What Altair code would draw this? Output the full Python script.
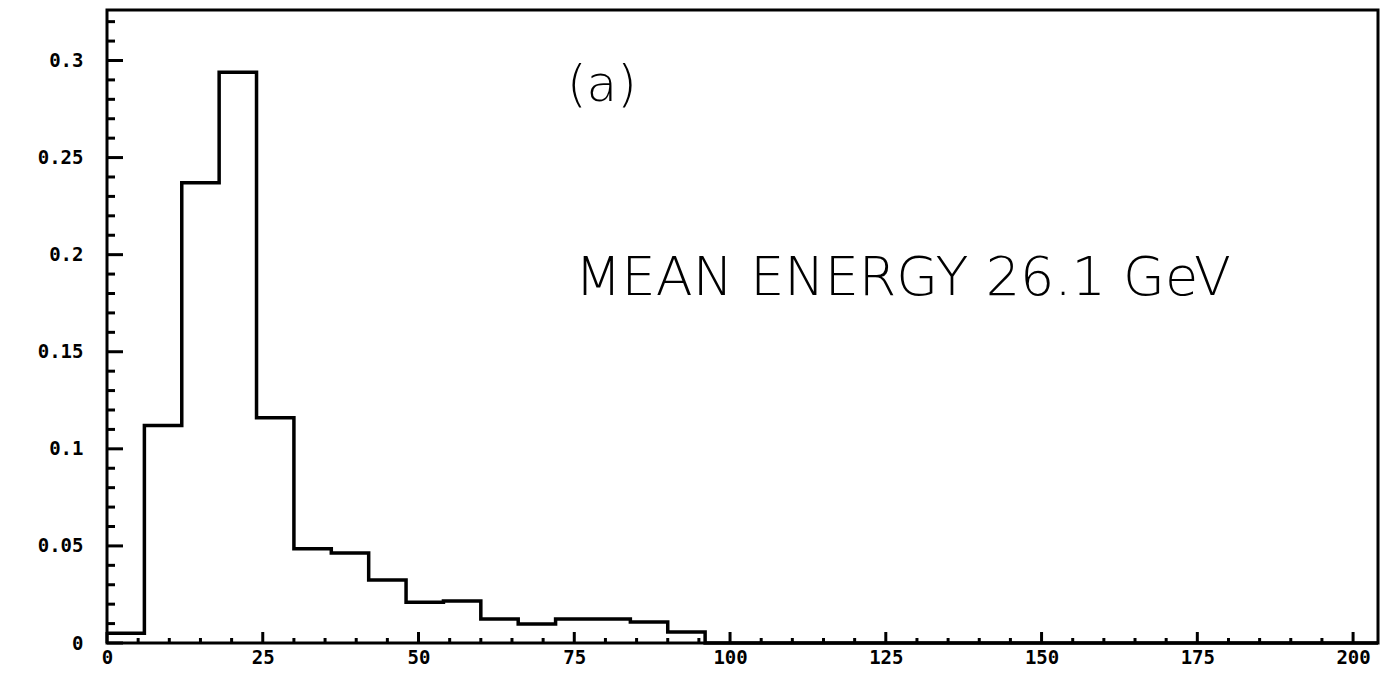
import altair as alt
import pandas as pd

# Histogram (bin lower edges in GeV, fraction of events per 6 GeV bin)
bin_low = [0, 6, 12, 18, 24, 30, 36, 42, 48, 54, 60, 66, 72, 78, 84, 90]
bin_frac = [0.005, 0.112, 0.237, 0.294, 0.116, 0.0485, 0.0464, 0.0325,
            0.021, 0.0216, 0.0124, 0.0098, 0.0124, 0.0124, 0.0108, 0.0057]
hist_end = 96
x_max = 204
y_max = 0.326

x_major = [0, 25, 50, 75, 100, 125, 150, 175, 200]
x_minor = [5, 10, 15, 20, 30, 35, 40, 45, 55, 60, 65, 70, 80, 85, 90, 95,
           105, 110, 115, 120, 130, 135, 140, 145, 155, 160, 165, 170,
           180, 185, 190, 195]
y_major = [0, 0.05, 0.1, 0.15, 0.2, 0.25, 0.3]
y_minor = [0.01, 0.02, 0.03, 0.04, 0.06, 0.07, 0.08, 0.09, 0.11, 0.12, 0.13,
           0.14, 0.16, 0.17, 0.18, 0.19, 0.21, 0.22, 0.23, 0.24, 0.26, 0.27,
           0.28, 0.29, 0.31, 0.32]

label_a = "(a)"
label_mean = "MEAN ENERGY 26.1 GeV"

W, H = 1271, 633
LABEL_FONT = "DejaVu Sans Mono"
LABEL_SIZE = 19

xscale = alt.Scale(domain=[0, x_max], nice=False, zero=False)
yscale = alt.Scale(domain=[0, y_max], nice=False, zero=False)

step_df = pd.DataFrame({
    "e": bin_low + [hist_end, x_max],
    "f": bin_frac + [0, 0],
})

step = alt.Chart(step_df).mark_line(
    interpolate="step-after", color="black", strokeWidth=3.5
).encode(
    x=alt.X("e:Q", scale=xscale, axis=alt.Axis(
        values=x_major, ticks=False, domain=False, grid=False, title=None,
        labelFont=LABEL_FONT, labelFontSize=LABEL_SIZE, labelFontWeight="bold",
        labelColor="black", labelPadding=20, labelBaseline="alphabetic",
        labelFlush=False)),
    y=alt.Y("f:Q", scale=yscale, axis=alt.Axis(
        values=y_major, ticks=False, domain=False, grid=False, title=None,
        labelFont=LABEL_FONT, labelFontSize=LABEL_SIZE, labelFontWeight="bold",
        labelColor="black", labelPadding=24, labelFlush=False,
        labelExpr="'' + datum.value")),
)

def xticks(vals, length):
    return alt.Chart(pd.DataFrame({"v": vals})).mark_rule(
        color="black", strokeWidth=3
    ).encode(
        x=alt.X("v:Q", scale=xscale, axis=None),
        y=alt.value(H), y2=alt.value(H - length),
    )

def yticks(vals, length):
    return alt.Chart(pd.DataFrame({"v": vals})).mark_rule(
        color="black", strokeWidth=3
    ).encode(
        y=alt.Y("v:Q", scale=yscale, axis=None),
        x=alt.value(0), x2=alt.value(length),
    )

txt_a = alt.Chart(pd.DataFrame({"t": [label_a]})).mark_text(
    font="DejaVu Sans", fontSize=50, fontWeight=200, color="black",
    align="left", baseline="middle"
).encode(text="t:N", x=alt.value(460), y=alt.value(76))

txt_mean = alt.Chart(pd.DataFrame({"t": [label_mean]})).mark_text(
    font="DejaVu Sans", fontSize=54, fontWeight=200, color="black",
    align="left", baseline="alphabetic"
).encode(text="t:N", x=alt.value(468), y=alt.value(285))

chart = alt.layer(
    step,
    xticks(x_major, 11), xticks(x_minor, 5),
    yticks(y_major, 16), yticks(y_minor, 8),
    txt_a, txt_mean,
).resolve_axis(
    x="independent", y="independent"
).properties(
    width=W, height=H,
    autosize=alt.AutoSizeParams(type="none"),
    padding={"left": 99, "top": 2, "right": 2, "bottom": 26},
    background="white",
).configure_view(
    stroke="black", strokeWidth=3
)

chart.save("out.html", embed_options={"renderer": "svg", "actions": False})
